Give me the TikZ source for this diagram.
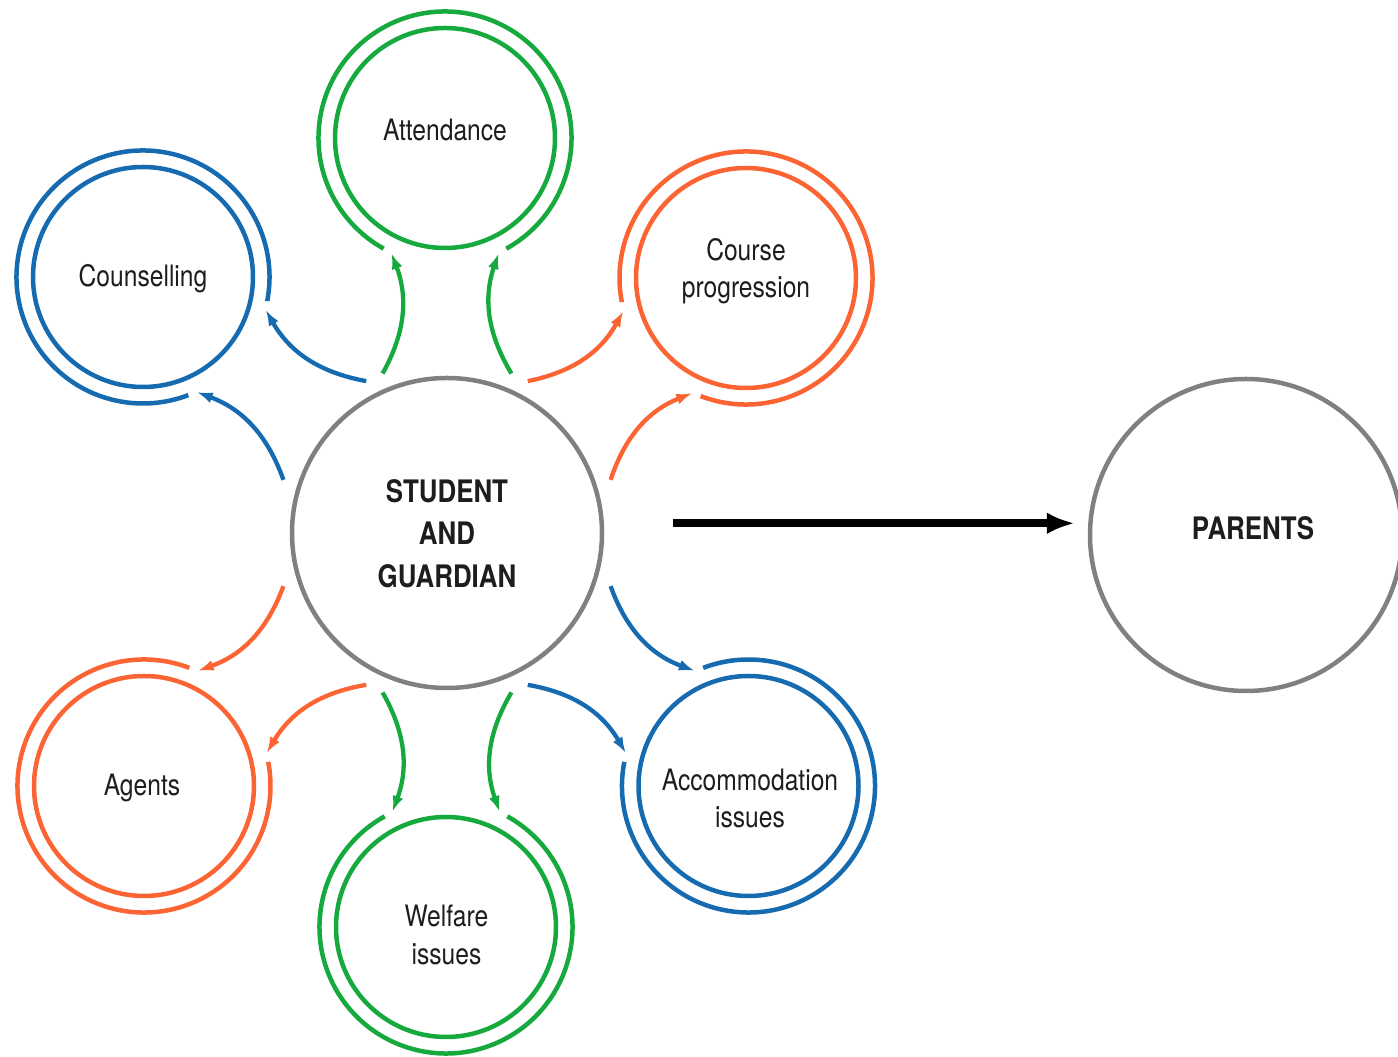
\documentclass[tikz,border=0pt]{standalone}
\usepackage{fontspec}
\setmainfont{TeX Gyre Heros}[FakeStretch=0.835]
\usetikzlibrary{arrows.meta,calc}
\definecolor{cgreen}{RGB}{22,170,62}
\definecolor{cblue}{RGB}{22,106,176}
\definecolor{corange}{RGB}{252,100,52}
\definecolor{cgray}{RGB}{128,128,128}
\definecolor{ctext}{RGB}{30,28,30}
\tikzset{
  ringline/.style={line width=4.5pt},
  satnode/.style={circle, draw, line width=4.5pt, minimum size=220pt, inner sep=0pt},
  bignode/.style={circle, draw=cgray, line width=4.5pt, minimum size=310pt, inner sep=0pt},
  arr/.style={line width=4.3pt, -{Latex[length=16pt,width=11pt]}},
  lbl/.style={font=\fontsize{29.5}{37.5}\selectfont, text=ctext, align=center, inner sep=0pt},
  blbl/.style={font=\bfseries\fontsize{31}{42.5}\selectfont, text=ctext, align=center, inner sep=0pt}
}
\newcommand\satgroup[5]{%
  \node[satnode, draw=#5] (#1) at (#2,#3) {};
  \draw[ringline, #5] ($(#1.center)+(#4+209:126.5)$) arc[start angle=#4+209, end angle=#4+511, radius=126.5];
  \draw[arr, #5] ($(ctr.center)+(#4+22:172)$) to[bend right=25] ($(#1.center)+(#4+155:127)$);
  \draw[arr, #5] ($(ctr.center)+(#4-22:172)$) to[bend left=25] ($(#1.center)+(#4+205:127)$);
}
\begin{document}
\begin{tikzpicture}[x=1pt,y=1pt]
\useasboundingbox (0,0) rectangle (1398,1057);
\node[bignode] (ctr) at (447,524) {};
\node[blbl] (ctrT) at (447,523.5) {STUDENT\\AND\\GUARDIAN};
\node[bignode, minimum size=312pt] (par) at (1246,522) {};
\node[blbl, anchor=base] (parT) at (1253,517) {PARENTS};
\coordinate (bs) at (673,533.7);
\draw[line width=8pt, -{Latex[length=28pt,width=22pt]}, shorten >=13pt] (bs) -- (bs -| par.west);

\satgroup{att}{445}{919}{90}{cgreen}
\satgroup{cou}{143}{780}{140}{cblue}
\satgroup{crs}{746}{779}{40}{corange}
\satgroup{agt}{144}{271}{220}{corange}
\satgroup{wel}{446}{130}{270}{cgreen}
\satgroup{acc}{748.5}{271}{320}{cblue}

\node[lbl, anchor=base] (attT) at (445,916) {Attendance};
\node[lbl, anchor=base] (couT) at (143,770) {Counselling};
\node[lbl] (crsT) at (746,786) {Course\\progression};
\node[lbl, anchor=base] (agtT) at (142,261) {Agents};
\node[lbl] (welT) at (446.5,122) {Welfare\\issues};
\node[lbl] (accT) at (750,258.5) {Accommodation\\issues};
\end{tikzpicture}
\end{document}
